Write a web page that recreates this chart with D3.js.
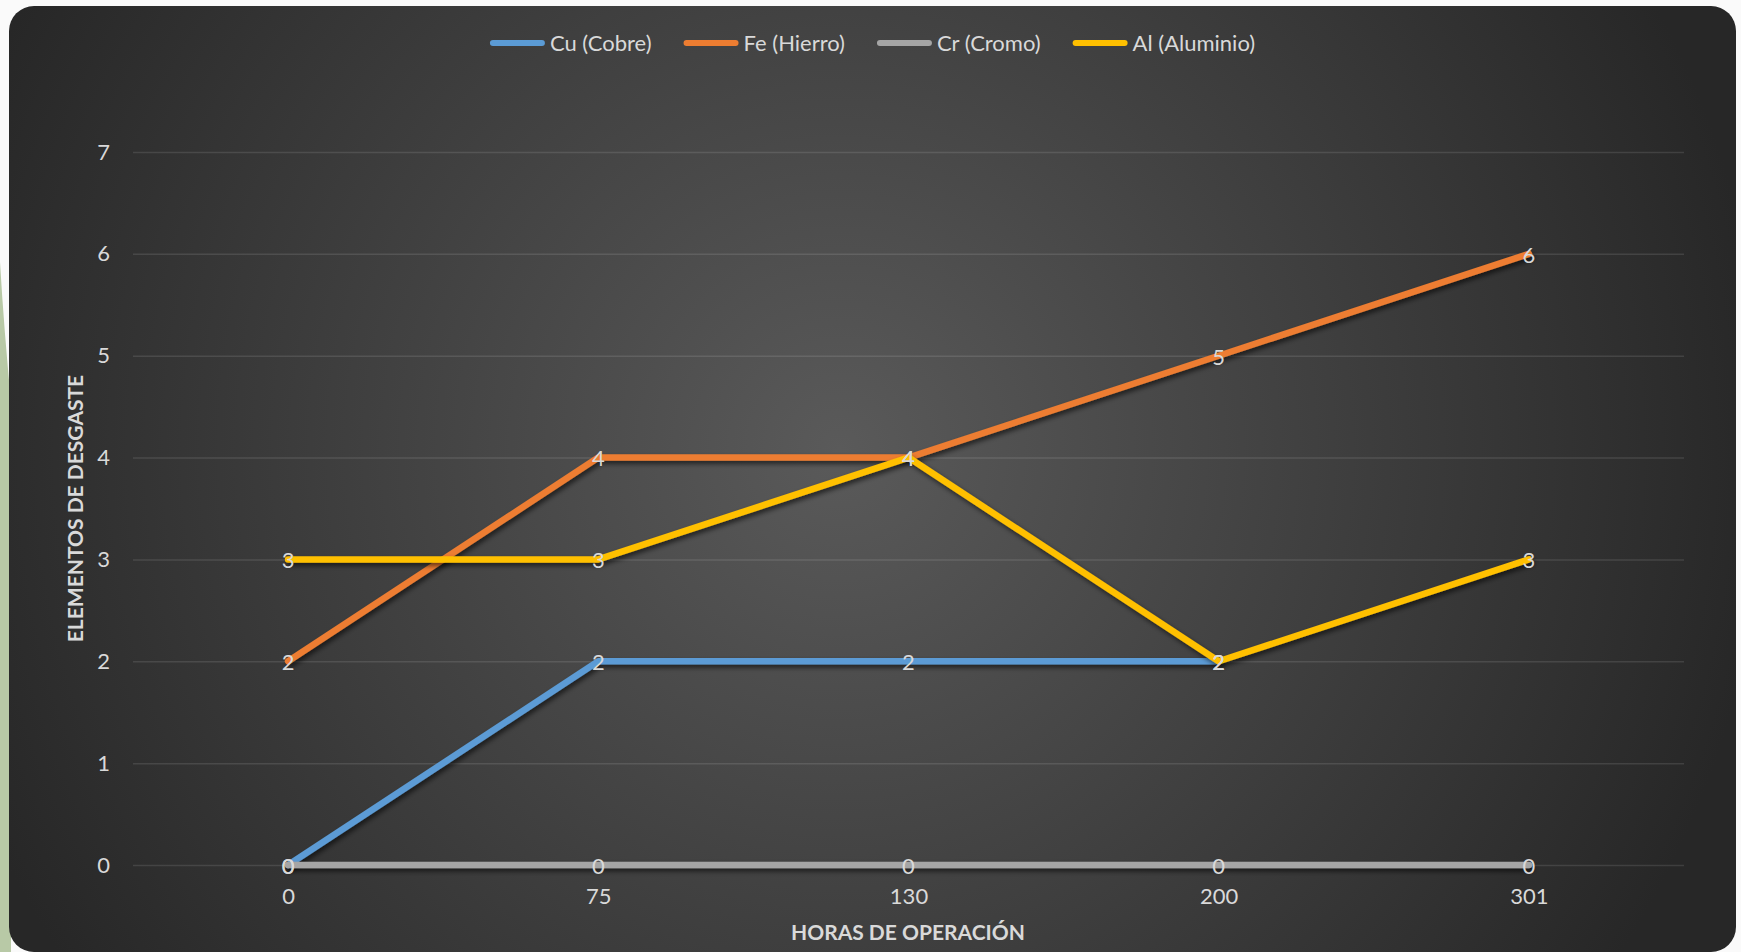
<!DOCTYPE html>
<html>
<head>
<meta charset="utf-8">
<script src="https://cdn.jsdelivr.net/npm/d3@7"></script>
<style>
  html, body { margin: 0; padding: 0; background: #fafafa; overflow: hidden; }
  svg { display: block; }
  text { font-family: Lato, "Open Sans", sans-serif; }
</style>
</head>
<body>
<svg id="chart" width="1741" height="952"></svg>
<script>
// Horas de operación (eje X) y elementos de desgaste por metal (eje Y)
const categories = ["0", "75", "130", "200", "301"];
const cuValues = [0, 2, 2, 2, null];
const feValues = [2, 4, 4, 5, 6];
const crValues = [0, 0, 0, 0, 0];
const alValues = [3, 3, 4, 2, 3];
const seriesNames = ["Cu (Cobre)", "Fe (Hierro)", "Cr (Cromo)", "Al (Aluminio)"];
const seriesColors = ["#5B9BD5", "#ED7D31", "#A5A5A5", "#FFC000"];
const yTickValues = [0, 1, 2, 3, 4, 5, 6, 7];
const xTitle = "HORAS DE OPERACIÓN";
const yTitle = "ELEMENTOS DE DESGASTE";

const series = [cuValues, feValues, crValues, alValues].map((vals, i) => ({
  name: seriesNames[i],
  color: seriesColors[i],
  values: vals.map((v, j) => ({ cat: categories[j], v }))
}));

const svg = d3.select("#chart");
const W = 1741, H = 952;
const card = { x: 9, y: 6, w: 1727, h: 946, r: 25 };
const plot = { left: 133, right: 1684, top: 152, bottom: 865 };
const textColor = "#d9d9d9";
const fontSize = 22;

const defs = svg.append("defs");
const grad = defs.append("radialGradient")
  .attr("id", "bg")
  .attr("gradientUnits", "userSpaceOnUse")
  .attr("cx", 840).attr("cy", 450).attr("r", 930);
grad.append("stop").attr("offset", "0").attr("stop-color", "#5a5a5a");
grad.append("stop").attr("offset", "0.55").attr("stop-color", "#3e3e3e");
grad.append("stop").attr("offset", "1").attr("stop-color", "#272727");

// Shadow region in user space so flat (zero-height) lines still render
const shadow = defs.append("filter").attr("id", "shadow")
  .attr("filterUnits", "userSpaceOnUse")
  .attr("x", 0).attr("y", 0).attr("width", W).attr("height", H);
shadow.append("feDropShadow")
  .attr("dx", 2).attr("dy", 3).attr("stdDeviation", 2.5)
  .attr("flood-color", "#000").attr("flood-opacity", 0.6);

// Page surround: light background with a green strip along the lower left edge
svg.append("rect").attr("width", W).attr("height", H).attr("fill", "#fafafa");
svg.append("path")
  .attr("d", `M0,262 Q4,330 ${card.x + 2},401 L${card.x + 2},${H} L0,${H} Z`)
  .attr("fill", "#b8c9a6");

// Chart card
svg.append("rect")
  .attr("x", card.x).attr("y", card.y)
  .attr("width", card.w).attr("height", card.h)
  .attr("rx", card.r).attr("ry", card.r)
  .attr("fill", "url(#bg)");

const x = d3.scalePoint().domain(categories).range([plot.left, plot.right]).padding(0.5);
const y = d3.scaleLinear().domain([0, 7]).range([plot.bottom, plot.top]);

// Y axis with horizontal gridlines
const yAxis = svg.append("g")
  .attr("transform", `translate(${plot.left},0)`)
  .call(d3.axisLeft(y).tickValues(yTickValues).tickSize(-(plot.right - plot.left)).tickPadding(23).tickFormat(d3.format("d")));
yAxis.select(".domain").remove();
yAxis.selectAll(".tick line").attr("stroke", "rgba(255,255,255,0.11)").attr("stroke-width", 1.5);
yAxis.selectAll(".tick text")
  .attr("fill", textColor).attr("font-size", fontSize).attr("font-family", "Lato, sans-serif");

// X axis (category labels only)
const xAxis = svg.append("g")
  .attr("transform", `translate(0,${plot.bottom})`)
  .call(d3.axisBottom(x).tickSize(0).tickPadding(23));
xAxis.select(".domain").remove();
xAxis.selectAll(".tick text")
  .attr("fill", textColor).attr("font-size", fontSize).attr("font-family", "Lato, sans-serif");

// Series lines
const line = d3.line()
  .defined(d => d.v !== null)
  .x(d => x(d.cat))
  .y(d => y(d.v));

svg.append("g").selectAll("path")
  .data(series)
  .join("path")
  .attr("d", d => line(d.values))
  .attr("fill", "none")
  .attr("stroke", d => d.color)
  .attr("stroke-width", 6.5)
  .attr("stroke-linejoin", "round")
  .attr("stroke-linecap", "round")
  .attr("filter", "url(#shadow)");

// Data labels centred on each point
const labels = svg.append("g");
series.forEach(s => {
  labels.selectAll(null)
    .data(s.values.filter(d => d.v !== null))
    .join("text")
    .attr("x", d => x(d.cat))
    .attr("y", d => y(d.v))
    .attr("dy", "0.4em")
    .attr("text-anchor", "middle")
    .attr("fill", textColor)
    .attr("font-size", fontSize)
    .text(d => d.v);
});

// Axis titles
svg.append("text")
  .attr("x", 908).attr("y", 940)
  .attr("text-anchor", "middle")
  .attr("fill", textColor).attr("font-size", 21).attr("font-weight", "bold")
  .text(xTitle);

svg.append("text")
  .attr("transform", `translate(83,${(plot.top + plot.bottom) / 2}) rotate(-90)`)
  .attr("text-anchor", "middle")
  .attr("fill", textColor).attr("font-size", 21).attr("font-weight", "bold")
  .text(yTitle);

// Legend, centred across the card
const legend = svg.append("g");
const swatchW = 55, swatchGap = 5, itemGap = 32, legendY = 43;
const items = legend.selectAll("g").data(series).join("g");
items.append("line")
  .attr("x1", 3).attr("x2", swatchW - 3)
  .attr("y1", legendY).attr("y2", legendY)
  .attr("stroke", d => d.color).attr("stroke-width", 6).attr("stroke-linecap", "round");
items.append("text")
  .attr("x", swatchW + swatchGap).attr("y", legendY).attr("dy", "0.35em")
  .attr("fill", textColor).attr("font-size", fontSize)
  .text(d => d.name);
const widths = [];
items.each(function () {
  const tw = d3.select(this).select("text").node().getComputedTextLength();
  widths.push(swatchW + swatchGap + tw);
});
const total = d3.sum(widths) + itemGap * (widths.length - 1);
let start = card.x + card.w / 2 - total / 2;
items.attr("transform", (d, i) => {
  const t = `translate(${start},0)`;
  start += widths[i] + itemGap;
  return t;
});
</script>
</body>
</html>
